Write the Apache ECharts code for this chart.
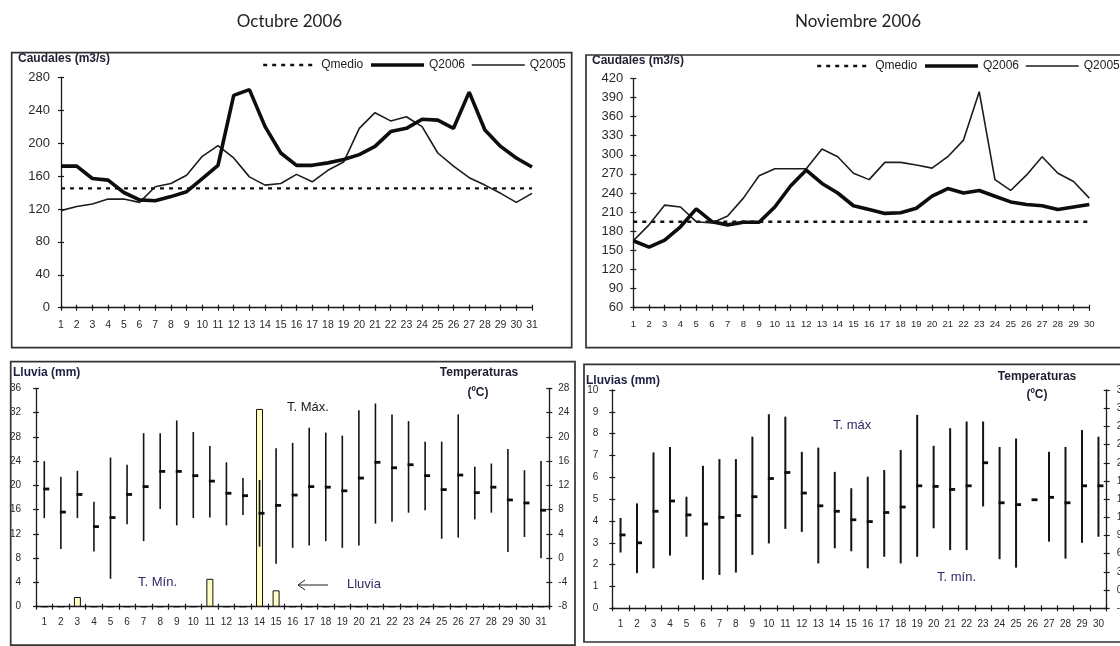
<!DOCTYPE html>
<html><head><meta charset="utf-8">
<script src="https://cdn.jsdelivr.net/npm/echarts@6/dist/echarts.min.js"></script>
<style>html,body{margin:0;padding:0;background:#fff}#c{width:1120px;height:646px}</style>
</head><body><div id="c"></div>
<script>
// ---------- DATA ----------
const octDays = ['1','2','3','4','5','6','7','8','9','10','11','12','13','14','15','16','17','18','19','20','21','22','23','24','25','26','27','28','29','30','31'];
const novDays = ['1','2','3','4','5','6','7','8','9','10','11','12','13','14','15','16','17','18','19','20','21','22','23','24','25','26','27','28','29','30'];

const octQ2006 = [172,172,157,155,140,131,130,135,141,157,173,258,265,220,188,173,173,176,180,186,196,214,218,229,228,218,262,216,196,182,171];
const octQ2005 = [118,123,126,132,132,128,147,151,161,184,197,182,159,149,151,162,153,167,177,218,237,227,232,220,188,172,158,149,139,128,139];
const octQmedio = 145;

const novQ2006 = [165,155,166,187,215,195,190,194,194,218,251,276,255,240,220,214,208,209,216,235,247,240,244,235,226,222,220,214,218,222];
const novQ2005 = [165,190,221,218,195,193,204,232,267,278,278,278,309,297,271,261,288,288,284,279,297,323,399,261,244,268,297,271,258,232];
const novQmedio = 195;

const octRain  = [0,0,1.6,0,0,0,0,0,0,0,4.6,0,0,32.6,2.7,0,0,0,0,0,0,0,0,0,0,0,0,0,0,0,0];
const octTmax  = [16.0,13.4,14.4,9.3,16.6,15.4,20.6,20.6,22.7,20.8,18.5,15.8,13.2,12.9,18.1,19.0,21.5,20.7,20.2,24.4,25.5,23.7,22.6,19.2,19.2,23.7,15.1,15.6,18.0,14.5,16.0];
const octTmin  = [6.6,1.5,6.6,1.1,-3.4,5.6,2.8,8.1,5.4,6.6,6.7,5.4,7.1,1.9,-0.9,1.7,2.1,2.8,1.7,2.1,5.7,6.0,7.5,7.9,3.2,3.4,6.4,7.5,1.0,3.5,0.0];
const octTmean = [11.4,7.6,10.5,5.2,6.7,10.5,11.8,14.3,14.3,13.6,12.7,10.7,10.3,7.4,8.7,10.4,11.8,11.7,11.1,13.2,15.8,14.9,15.4,13.6,11.3,13.7,10.8,11.7,9.6,9.1,7.9];

const novTmax  = [11.9,14.3,22.7,23.6,15.4,20.5,21.6,21.6,25.3,29.0,28.6,22.8,23.5,19.5,16.8,18.7,19.8,23.1,28.9,23.8,26.7,27.8,27.8,23.6,25.0,14.9,22.8,23.6,26.4,25.3];
const novTmin  = [6.2,2.8,3.6,5.7,8.8,1.7,2.5,2.9,5.8,7.7,10.1,9.6,4.4,6.9,6.4,3.6,5.5,4.4,5.5,10.2,6.6,6.6,13.8,5.1,3.7,14.9,8.0,5.2,7.8,8.8];
const novTmean = [9.1,7.8,13.0,14.7,12.4,10.9,12.0,12.3,15.4,18.4,19.4,16.0,13.9,13.0,11.6,11.3,12.8,13.7,17.2,17.1,16.6,17.2,21.0,14.4,14.1,14.9,15.3,14.4,17.2,17.2];

const octQTicks    = [0,40,80,120,160,200,240,280];
const novQTicks    = [60,90,120,150,180,210,240,270,300,330,360,390,420];
const octRainTicks = [0,4,8,12,16,20,24,28,32,36];
const octTempTicks = [-8,-4,0,4,8,12,16,20,24,28];
const novRainTicks = [0,1,2,3,4,5,6,7,8,9,10];
const novTempTicks = [-3,0,3,6,9,12,15,18,21,24,27,30,33];

// ---------- HELPERS ----------
const AX = '#1a1a1a', LBL = '#2a2a2a';
const FONT = '"Liberation Sans", Arial, sans-serif';
const grids = [], xAxes = [], yAxes = [], series = [];
const NOFILL = 'rgba(0,0,0,0)';

function addGrid(rect) {
  grids.push(Object.assign({ containLabel: false, outerBoundsMode: 'none', show: false }, rect));
  return grids.length - 1;
}
function catAxis(g, data, boundaryGap, fontSize, margin, overlay) {
  return { type: 'category', gridIndex: g, data: data, boundaryGap: boundaryGap, position: 'bottom',
    axisLine: { show: !overlay, onZero: false, lineStyle: { color: AX, width: 1.3 } },
    axisTick: { show: true, inside: overlay, length: 3, interval: 0, lineStyle: { color: AX, width: 1.2 } },
    axisLabel: { show: !overlay, interval: 0, fontSize: fontSize, margin: margin, color: LBL, fontFamily: FONT, hideOverlap: false },
    splitLine: { show: false } };
}
function valAxis(g, ticks, pos, fontSize, margin, overlay) {
  return { type: 'value', gridIndex: g, position: pos,
    min: ticks[0], max: ticks[ticks.length - 1], interval: ticks[1] - ticks[0],
    axisLine: { show: !overlay, onZero: false, lineStyle: { color: AX, width: 1.3 } },
    axisTick: { show: true, inside: overlay, length: 3, lineStyle: { color: AX, width: 1.2 } },
    axisLabel: { show: !overlay, fontSize: fontSize, margin: margin, color: LBL, fontFamily: FONT, hideOverlap: false },
    splitLine: { show: false } };
}
// builds a panel: main grid + overlay grid (inner half of the crossing ticks)
function panel(rect, days, boundaryGap, xFont, xMargin, yDefs) {
  const g = addGrid(rect);
  const xi = xAxes.push(catAxis(g, days, boundaryGap, xFont, xMargin, false)) - 1;
  const yi = yDefs.map(d => yAxes.push(valAxis(g, d.ticks, d.pos, d.font, d.margin, false)) - 1);
  const go = addGrid(rect);
  xAxes.push(catAxis(go, days, boundaryGap, xFont, xMargin, true));
  yDefs.forEach(d => yAxes.push(valAxis(go, d.ticks, d.pos, d.font, d.margin, true)));
  return { xi: xi, yi: yi };
}
function flowSeries(p, q2006, q2005, qmedio, days) {
  series.push({ type: 'line', name: 'Qmedio', xAxisIndex: p.xi, yAxisIndex: p.yi[0],
    data: days.map(() => qmedio), symbol: 'none', showSymbol: false, silent: true,
    itemStyle: { color: NOFILL, borderColor: NOFILL },
    lineStyle: { color: '#111', width: 2.4, type: [4, 5] }, z: 3 });
  series.push({ type: 'line', name: 'Q2005', xAxisIndex: p.xi, yAxisIndex: p.yi[0],
    data: q2005, symbol: 'none', showSymbol: false, silent: true,
    itemStyle: { color: NOFILL, borderColor: NOFILL },
    lineStyle: { color: '#1c1c1c', width: 1.6 }, z: 4 });
  series.push({ type: 'line', name: 'Q2006', xAxisIndex: p.xi, yAxisIndex: p.yi[0],
    data: q2006, symbol: 'none', showSymbol: false, silent: true,
    itemStyle: { color: NOFILL, borderColor: NOFILL },
    lineStyle: { color: '#0d0d0d', width: 3.6 }, z: 5 });
}
function hlcSeries(p, yIdx, tmin, tmax, tmean, lw) {
  series.push({ type: 'custom', xAxisIndex: p.xi, yAxisIndex: yIdx, silent: true, z: 6,
    data: tmax.map((v, i) => [i, tmin[i], v, tmean[i]]),
    encode: { x: 0, y: [1, 2, 3] },
    renderItem: function (params, api) {
      const i = api.value(0);
      const lo = api.coord([i, api.value(1)]);
      const hi = api.coord([i, api.value(2)]);
      const md = api.coord([i, api.value(3)]);
      return { type: 'group', children: [
        { type: 'line', shape: { x1: lo[0], y1: lo[1], x2: hi[0], y2: hi[1] }, style: { stroke: '#141414', lineWidth: lw } },
        { type: 'line', shape: { x1: md[0] - 1, y1: md[1], x2: md[0] + 5, y2: md[1] }, style: { stroke: '#0d0d0d', lineWidth: 2.8 } }
      ] };
    } });
}

// ---------- PANELS ----------
const pTL = panel({ left: 61, top: 77.3, width: 471, height: 230.4 }, octDays, false, 10.5, 12,
  [{ ticks: octQTicks, pos: 'left', font: 13, margin: 11 }]);
flowSeries(pTL, octQ2006, octQ2005, octQmedio, octDays);

const pTR = panel({ left: 633.3, top: 78.3, width: 456, height: 229.4 }, novDays, false, 9.5, 12,
  [{ ticks: novQTicks, pos: 'left', font: 13, margin: 10 }]);
flowSeries(pTR, novQ2006, novQ2005, novQmedio, novDays);

const pBL = panel({ left: 36, top: 388.3, width: 513.3, height: 218.4 }, octDays, true, 10, 11,
  [{ ticks: octRainTicks, pos: 'left', font: 10, margin: 15 }, { ticks: octTempTicks, pos: 'right', font: 10, margin: 9 }]);
series.push({ type: 'bar', xAxisIndex: pBL.xi, yAxisIndex: pBL.yi[0], data: octRain, barWidth: 7, silent: true, z: 2,
  itemStyle: { color: '#ffffc2', borderColor: '#111', borderWidth: 1 } });
hlcSeries(pBL, pBL.yi[1], octTmin, octTmax, octTmean, 1.6);

const pBR = panel({ left: 612.3, top: 390, width: 494.4, height: 218.3 }, novDays, true, 10, 10.5,
  [{ ticks: novRainTicks, pos: 'left', font: 10, margin: 14 }, { ticks: novTempTicks, pos: 'right', font: 10, margin: 10 }]);
hlcSeries(pBR, pBR.yi[1], novTmin, novTmax, novTmean, 2);

// ---------- GRAPHICS (frames, titles, labels) ----------
function txt(x, y, text, opt) {
  opt = opt || {};
  return { type: 'text', x: x, y: y, z: opt.z || 10, silent: true,
    style: { text: text, fill: opt.color || '#1e1e1e', align: opt.align || 'left', verticalAlign: 'middle',
      font: (opt.weight || 'normal') + ' ' + (opt.size || 12) + 'px ' + (opt.family || FONT) } };
}
function frame(x, y, w, h) {
  return { type: 'rect', z: 30, silent: true, shape: { x: x, y: y, width: w, height: h },
    style: { fill: null, stroke: '#333', lineWidth: 1.7 } };
}
const graphics = [
  txt(289.5, 22, 'Octubre 2006', { size: 17, family: 'Lato, "Open Sans", sans-serif', color: '#222', align: 'center' }),
  txt(858, 22, 'Noviembre 2006', { size: 17, family: 'Lato, "Open Sans", sans-serif', color: '#222', align: 'center' }),
  txt(18, 59, 'Caudales (m3/s)', { weight: 'bold', size: 12, color: '#1e1e33' }),
  txt(592, 61, 'Caudales (m3/s)', { weight: 'bold', size: 12, color: '#1e1e33' }),
  { type: 'rect', z: 20, silent: true, shape: { x: 0, y: 42, width: 578, height: 10.5 }, style: { fill: '#fff' } },
  { type: 'rect', z: 20, silent: true, shape: { x: 579, y: 42, width: 541, height: 12.5 }, style: { fill: '#fff' } },
  txt(13, 373, 'Lluvia (mm)', { weight: 'bold', size: 12, color: '#1e1e44' }),
  txt(479, 373, 'Temperaturas', { weight: 'bold', size: 12, color: '#1e1e33', align: 'center' }),
  txt(478, 393, '(ºC)', { weight: 'bold', size: 12, color: '#1e1e33', align: 'center' }),
  txt(287, 407, 'T. Máx.', { size: 13, color: '#1a1a1a' }),
  txt(138, 582, 'T. Mín.', { size: 13, color: '#2e2a66' }),
  txt(347, 584, 'Lluvia', { size: 13, color: '#2e2e66' }),
  { type: 'polyline', z: 10, silent: true, shape: { points: [[328, 585], [298, 585]] }, style: { stroke: '#222', lineWidth: 1, fill: null } },
  { type: 'polyline', z: 10, silent: true, shape: { points: [[305, 580], [298, 585], [305, 590]] }, style: { stroke: '#222', lineWidth: 1, fill: null } },
  txt(586, 381, 'Lluvias (mm)', { weight: 'bold', size: 12, color: '#1e1e44', z: 40 }),
  txt(1037, 377, 'Temperaturas', { weight: 'bold', size: 12, color: '#1e1e33', align: 'center' }),
  txt(1037, 395, '(ºC)', { weight: 'bold', size: 12, color: '#1e1e33', align: 'center' }),
  txt(833, 425, 'T. máx', { size: 13, color: '#2e2a66' }),
  txt(937, 577, 'T. mín.', { size: 13, color: '#2e2a66' }),
  frame(11.7, 52.7, 560, 295),
  frame(586, 55, 540, 292.7),
  frame(10.7, 361.7, 564.3, 283.5),
  frame(584, 364.3, 542, 277.7)
];

const legendData = [
  { name: 'Qmedio', itemStyle: { opacity: 0 }, lineStyle: { color: '#111', width: 2.4, type: [4, 5] } },
  { name: 'Q2006', itemStyle: { opacity: 0 }, lineStyle: { color: '#0d0d0d', width: 3.6 } },
  { name: 'Q2005', itemStyle: { opacity: 0 }, lineStyle: { color: '#1c1c1c', width: 1.4 } }
];
const legendBase = { orient: 'horizontal', itemWidth: 53, itemHeight: 10, itemGap: 6, padding: 0,
  selectedMode: false, data: legendData,
  itemStyle: { color: NOFILL, borderColor: NOFILL, opacity: 0 },
  textStyle: { fontSize: 12, color: '#222', fontFamily: FONT } };

const chart = echarts.init(document.getElementById('c'), null, { renderer: 'canvas' });
chart.setOption({
  backgroundColor: '#ffffff',
  animation: false,
  textStyle: { fontFamily: FONT },
  grid: grids,
  xAxis: xAxes,
  yAxis: yAxes,
  legend: [Object.assign({ left: 262, top: 59 }, legendBase), Object.assign({ left: 816, top: 60 }, legendBase)],
  graphic: { elements: graphics },
  series: series
});
</script></body></html>
